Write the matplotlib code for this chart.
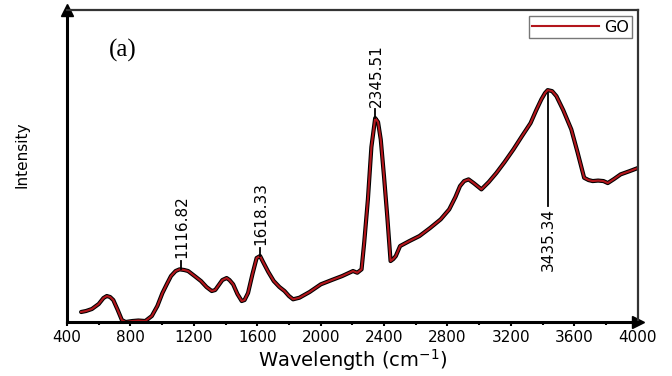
import matplotlib.pyplot as plt

# GO spectrum (intensity in arbitrary units)
wavenumber = [489, 520, 557, 600, 630, 651, 672, 692, 720, 746, 770, 813, 850, 894, 935,
              970, 1002, 1030, 1056, 1085, 1110, 1140, 1164, 1205, 1245, 1280, 1313, 1335,
              1353, 1380, 1407, 1425, 1448, 1475, 1502, 1520, 1542, 1570, 1596, 1618, 1637,
              1670, 1704, 1740, 1772, 1800, 1826, 1866, 1930, 2001, 2070, 2136, 2204, 2231,
              2258, 2275, 2298, 2320, 2344, 2362, 2379, 2400, 2420, 2441, 2458, 2474, 2501,
              2560, 2623, 2690, 2757, 2811, 2850, 2879, 2905, 2933, 2965, 3014, 3060, 3108,
              3160, 3216, 3270, 3324, 3360, 3392, 3415, 3432, 3460, 3487, 3530, 3581, 3620,
              3662, 3690, 3716, 3750, 3784, 3811, 3850, 3892, 3950, 4000]
intensity = [10, 11, 13, 18, 24, 26, 25, 22, 12, 2, 0, 1, 1.5, 1, 6,
             16, 29, 38, 46, 51, 52.7, 52, 51, 46, 41, 35, 31, 32,
             36, 42, 44, 42, 37.7, 28, 21, 22, 29, 48, 64, 66, 60,
             50, 41, 35, 31, 26, 22.7, 24.3, 30, 37.7, 42, 46, 51, 49.3,
             52.7, 80, 122.7, 175, 204, 200, 182.7, 145, 106, 61, 63, 66, 76,
             81, 86, 94, 102.7, 112.7, 125, 136, 141, 142.7, 139, 132.7, 140, 149,
             160, 172.7, 186, 199, 212, 222.7, 229, 232, 231, 226, 212, 192.7, 170,
             144.3, 142, 141, 141.5, 141, 139, 143, 147.7, 151, 154]

peak_labels = ["1116.82", "1618.33", "2345.51", "3435.34"]
peak_pos = [1116.82, 1618.33, 2345.51, 3435.34]

plt.rcParams['font.family'] = ['DejaVu Sans']

fig = plt.figure(figsize=(6.72, 3.76), dpi=100)
ax = fig.add_axes([0.0997, 0.1436, 0.8493, 0.8294])

ax.plot(wavenumber, intensity, color='black', lw=3.0, solid_capstyle='round')
ax.plot(wavenumber, intensity, color='#b3161c', lw=1.5, label='GO')

ax.set_xlim(400, 4000)
ax.set_ylim(0, 312)
ax.set_xticks(range(400, 4001, 400))
ax.set_xticks(range(600, 4000, 400), minor=True)
ax.set_yticks([])
ax.tick_params(axis='x', which='major', direction='out', length=3, width=1.5,
               labelsize=11, pad=3)
ax.tick_params(axis='x', which='minor', direction='out', length=2, width=1.5)

for side in ['left', 'bottom']:
    ax.spines[side].set_linewidth(2.2)
for side in ['top', 'right']:
    ax.spines[side].set_linewidth(1.6)
    ax.spines[side].set_color('#333333')

# arrow heads on the axes
ax.plot(1, 0, '>k', ms=9, transform=ax.transAxes, clip_on=False)
ax.plot(0, 1, '^k', ms=9, transform=ax.transAxes, clip_on=False)

ax.set_xlabel('Wavelength (cm$^{-1}$)', fontsize=14, labelpad=1)
ax.set_ylabel('Intensity', fontsize=11)
ax.yaxis.set_label_coords(-0.066, 0.535)

ax.text(0.097, 0.87, '(a)', transform=ax.transAxes, fontsize=18,
        family='Liberation Serif', ha='center', va='center')

# peak markers
ax.plot([1116.82, 1116.82], [52.7, 61], color='black', lw=1.3)
ax.text(1124, 64, peak_labels[0], rotation=90, ha='center', va='bottom', fontsize=11)
ax.plot([1618.33, 1618.33], [66, 74.5], color='black', lw=1.3)
ax.text(1625, 77, peak_labels[1], rotation=90, ha='center', va='bottom', fontsize=11)
ax.plot([2345.51, 2345.51], [204, 213], color='black', lw=1.3)
ax.text(2350, 215, peak_labels[2], rotation=90, ha='center', va='bottom', fontsize=11)
ax.plot([3435.34, 3435.34], [229, 116], color='black', lw=1.3)
ax.text(3437, 114, peak_labels[3], rotation=90, ha='center', va='top', fontsize=11)

leg = ax.legend(loc='upper right', fontsize=11.5, frameon=True, fancybox=False,
                handlelength=4.2, borderpad=0.2, handletextpad=0.3,
                borderaxespad=0, bbox_to_anchor=(0.99, 0.98))
leg.get_frame().set_edgecolor('#555555')
leg.get_frame().set_linewidth(1)

fig.savefig('out.png', dpi=100)
